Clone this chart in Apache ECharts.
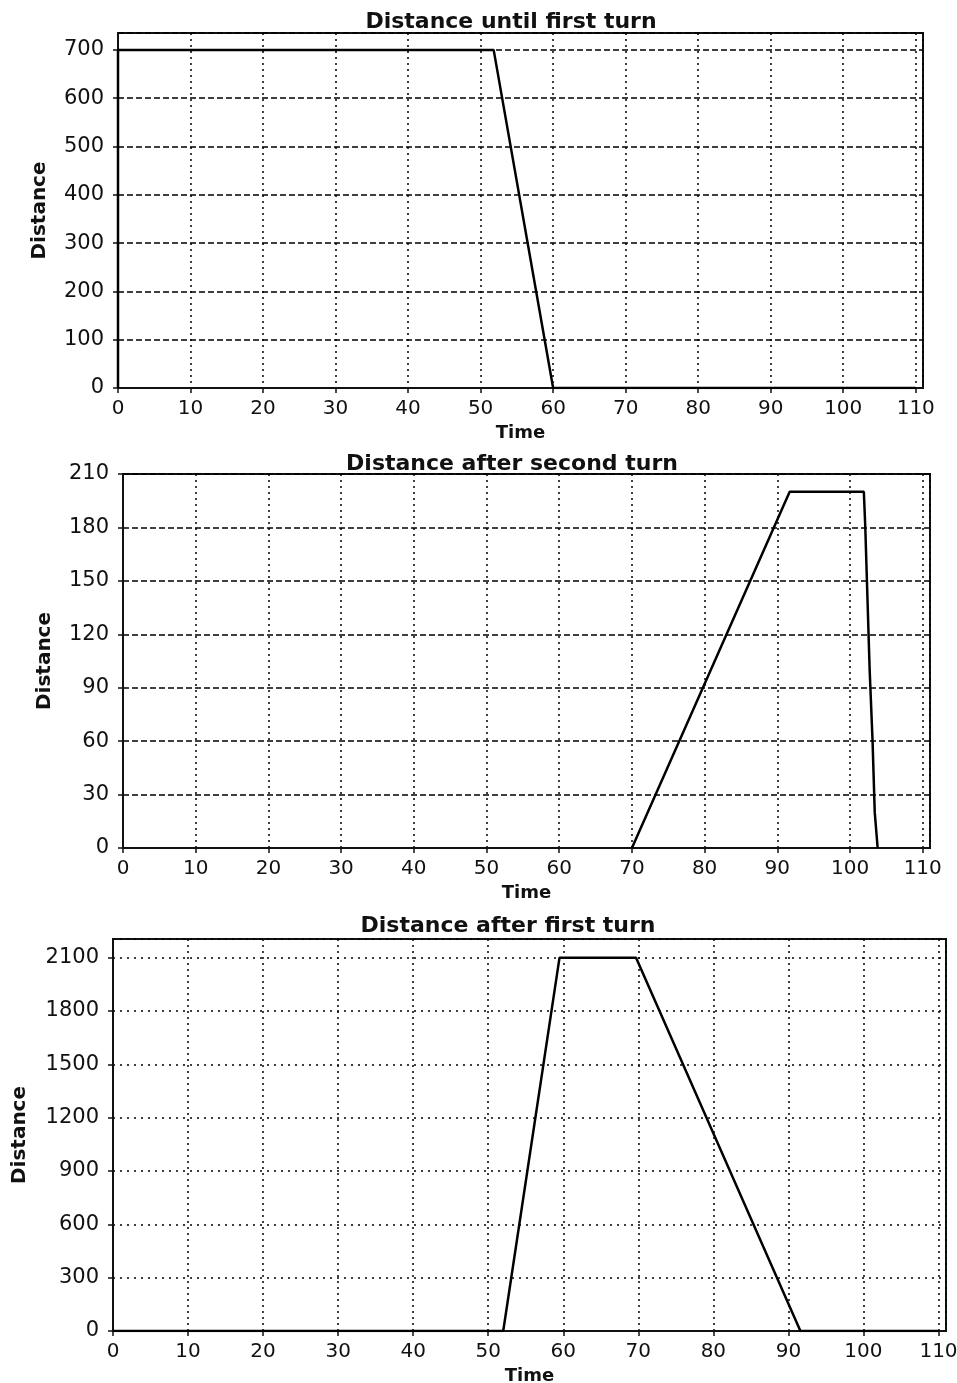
<!DOCTYPE html>
<html>
<head>
<meta charset="utf-8">
<script src="https://cdn.jsdelivr.net/npm/echarts@6/dist/echarts.min.js"></script>
<style>
  html, body { margin: 0; padding: 0; background: #fff; }
  #main { width: 957px; height: 1383px; }
</style>
</head>
<body>
<div id="main"></div>
<script>
// data
var titles = ["Distance until first turn", "Distance after second turn", "Distance after first turn"];

var timeUntilFirst = [0, 0, 51.8, 60, 110];
var distUntilFirst = [0, 700, 700, 0, 0];

var timeAfterSecond = [70, 91.7, 101.9, 102.1, 102.4, 102.7, 103.1, 103.4, 103.8];
var distAfterSecond = [0, 200, 200, 180, 140, 100, 60, 20, 0];

var timeAfterFirst = [0, 52, 59.5, 69.7, 91.6, 110];
var distAfterFirst = [0, 0, 2100, 2100, 0, 0];

var yMax = [735, 210, 2205];
var yStep = [100, 30, 300];

function pairs(xs, ys) {
  return xs.map(function (x, i) { return [x, ys[i]]; });
}

var font = "DejaVu Sans";
var ink = "#111";

// plot frames (left, top, right, bottom) in pixels
var frames = [
  [118, 33, 923, 388],
  [123, 474, 930, 848],
  [113, 939, 946, 1331]
];
var titleTop = [6, 448, 910];
var titleX = [506, 507, 503];
var yNameGap = [68, 68, 83];
var hDash = [[6, 3], [6, 3], [2, 5]];

var myChart = echarts.init(document.getElementById("main"));

var grid = [], xAxis = [], yAxis = [], title = [];
frames.forEach(function (f, i) {
  grid.push({
    left: f[0], top: f[1], width: f[2] - f[0], height: f[3] - f[1],
    outerBoundsMode: "none", containLabel: false,
    show: true, borderColor: ink, borderWidth: 2, backgroundColor: "#fff"
  });
  title.push({
    text: titles[i], left: titleX[i], top: titleTop[i], textAlign: "center",
    textStyle: { fontFamily: font, fontSize: 22, fontWeight: "bold", color: ink }
  });
  xAxis.push({
    gridIndex: i, type: "value", min: 0, max: 111, interval: 10,
    name: "Time", nameLocation: "middle", nameGap: 36,
    nameTextStyle: { fontFamily: font, fontSize: 18, fontWeight: "bold", color: ink },
    axisLine: { show: true, onZero: false, lineStyle: { color: ink, width: 2 } },
    axisTick: { show: true, length: 5, lineStyle: { color: ink, width: 1.5 } },
    axisLabel: { margin: 11, showMaxLabel: false, fontFamily: font, fontSize: 20, color: ink },
    splitLine: { show: true, lineStyle: { color: "#000", width: 1.5, type: [2, 4] } }
  });
  yAxis.push({
    gridIndex: i, type: "value", min: 0, max: yMax[i], interval: yStep[i],
    name: "Distance", nameLocation: "middle", nameGap: yNameGap[i],
    nameTextStyle: { fontFamily: font, fontSize: 20, fontWeight: "bold", color: ink },
    axisLine: { show: true, lineStyle: { color: ink, width: 2 } },
    axisTick: { show: true, length: 5, lineStyle: { color: ink, width: 1.5 } },
    axisLabel: {
      margin: 14, showMaxLabel: i === 1, fontFamily: font, fontSize: 21, color: ink,
      formatter: function (v) { return String(v); }
    },
    splitLine: { show: true, lineStyle: { color: "#000", width: 1.5, type: hDash[i] } }
  });
});

var series = [
  pairs(timeUntilFirst, distUntilFirst),
  pairs(timeAfterSecond, distAfterSecond),
  pairs(timeAfterFirst, distAfterFirst)
].map(function (d, i) {
  return {
    type: "line", xAxisIndex: i, yAxisIndex: i, data: d,
    showSymbol: false, lineStyle: { color: "#000", width: 2.5 }, z: 5
  };
});

var option = {
  animation: false,
  backgroundColor: "#fff",
  title: title,
  grid: grid,
  xAxis: xAxis,
  yAxis: yAxis,
  series: series
};

myChart.setOption(option);
</script>
</body>
</html>
